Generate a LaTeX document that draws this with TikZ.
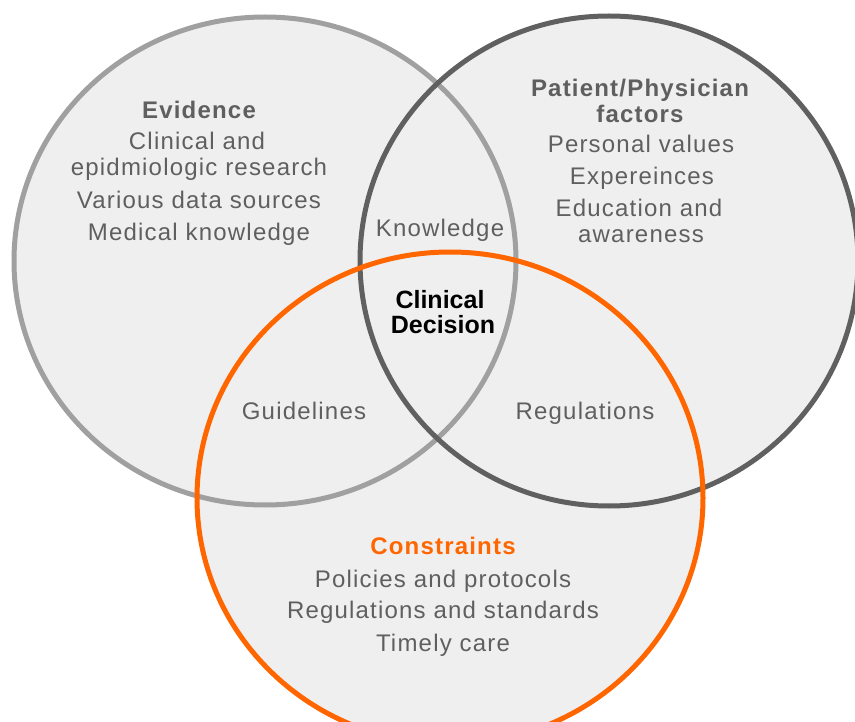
\documentclass[tikz,border=0pt]{standalone}
\usepackage{fontspec}
\setmainfont{Liberation Sans}
\newfontfamily\bodyfont[LetterSpace=5]{Liberation Sans}
\newfontfamily\plainfont{Liberation Sans}

\definecolor{fillgray}{HTML}{EFEFEF}
\definecolor{evgray}{HTML}{A0A0A0}
\definecolor{ptgray}{HTML}{606060}
\definecolor{conorange}{HTML}{FF6600}
\definecolor{txtgray}{HTML}{5F5F5F}

\tikzset{
  ring/.style={line width=5pt},
  lbl/.style={anchor=base, inner sep=0pt, text=txtgray,
    font=\bodyfont\fontsize{24}{26}\selectfont},
  head/.style={lbl, font=\bodyfont\bfseries\fontsize{24}{26}\selectfont},
  core/.style={anchor=base, inner sep=0pt, text=black,
    font=\plainfont\bfseries\fontsize{25}{27}\selectfont}
}

\begin{document}
\begin{tikzpicture}[x=1pt, y=-1pt]
  \useasboundingbox (0,0) rectangle (855,722);

  % circle centres
  \coordinate (ev) at (265,261);
  \coordinate (pt) at (609,261);
  \coordinate (co) at (450,498);

  % fills
  \fill[fillgray] (ev) ellipse [x radius=251pt, y radius=244pt];
  \fill[fillgray] (pt) ellipse [x radius=249pt, y radius=245pt];
  \fill[fillgray] (co) ellipse [x radius=253pt, y radius=246pt];

  % outlines
  \draw[ring, evgray] (ev) ellipse [x radius=251pt, y radius=244pt];
  \draw[ring, ptgray] (pt) ellipse [x radius=249pt, y radius=245pt];
  \draw[ring, conorange] (co) ellipse [x radius=253pt, y radius=246pt];

  % Evidence
  \node[head] (evh) at (199,119) {Evidence};
  \node[lbl] (ev1) at (197,150) {Clinical and};
  \node[lbl] (ev2) at (199,176) {epidmiologic research};
  \node[lbl] (ev3) at (199,209) {Various data sources};
  \node[lbl] (ev4) at (199,241) {Medical knowledge};

  % Patient/Physician factors
  \node[head] (pth1) at (640,97) {Patient/Physician};
  \node[head] (pth2) at (640,123) {factors};
  \node[lbl] (pt1) at (641,153) {Personal values};
  \node[lbl] (pt2) at (642,185) {Expereinces};
  \node[lbl] (pt3) at (639,217) {Education and};
  \node[lbl] (pt4) at (641,243) {awareness};

  % overlaps
  \node[lbl] (kn) at (440,237) {Knowledge};
  \node[lbl] (gl) at (304,419) {Guidelines};
  \node[lbl] (rg) at (585,419) {Regulations};
  \node[core] (cd1) at (440,309) {Clinical};
  \node[core] (cd2) at (443,334) {Decision};

  % Constraints
  \node[head, text=conorange] (coh) at (443,554) {Constraints};
  \node[lbl] (co1) at (443,587) {Policies and protocols};
  \node[lbl] (co2) at (443,618) {Regulations and standards};
  \node[lbl] (co3) at (443,651) {Timely care};
\end{tikzpicture}
\end{document}
